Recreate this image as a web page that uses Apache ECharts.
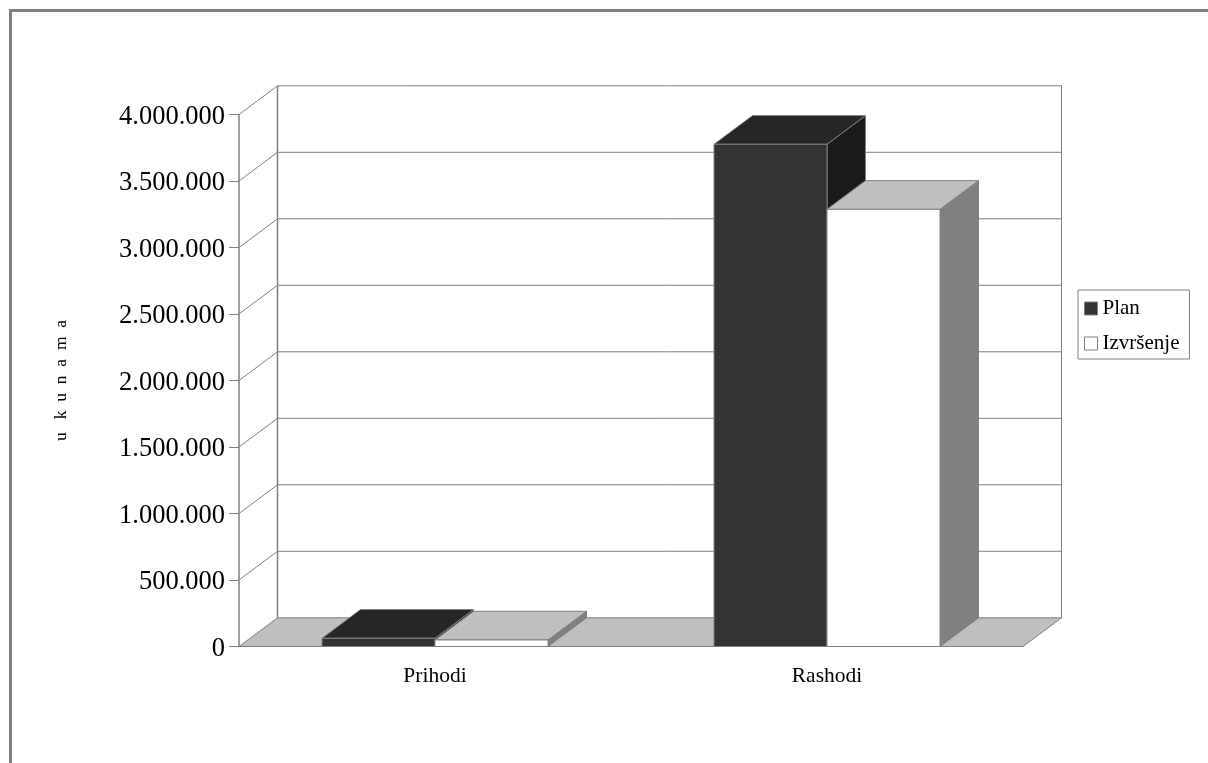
<!DOCTYPE html>
<html>
<head>
<meta charset="utf-8">
<style>html,body{margin:0;padding:0;background:#fff}#c{width:1208px;height:763px}</style>
<script src="https://cdn.jsdelivr.net/npm/echarts@6/dist/echarts.min.js"></script>
</head>
<body>
<div id="c"></div>
<script>
const categories = ['Prihodi', 'Rashodi'];
const planValues = [62000, 3776000];
const izvrsenjeValues = [49000, 3287000];
const yTicks = [0, 500000, 1000000, 1500000, 2000000, 2500000, 3000000, 3500000, 4000000];
const axisName = 'u   k  u  n  a  m  a';

const DX = 38.5, DY = -28.7, EDGE = '#808080', FONT = '"Liberation Serif", serif';
const BAR_SHARE = 113 / 392;

function poly(pts, fill, stroke) {
  return { type: 'polygon', shape: { points: pts }, style: { fill: fill, stroke: stroke || EDGE, lineWidth: 1 } };
}
function line(a, b, w) {
  return { type: 'line', shape: { x1: a[0], y1: a[1], x2: b[0], y2: b[1] }, style: { stroke: EDGE, lineWidth: w || 1 } };
}
function wallItem(params, api) {
  const cs = params.coordSys;
  const v = api.value(0);
  const y = api.coord([0, v])[1];
  const L = cs.x, R = cs.x + cs.width;
  const kids = [];
  if (v === 0) {
    const topY = cs.y + DY;
    kids.push(line([L + DX, y + DY], [L + DX, topY], 1.5));
    kids.push(line([R + DX, y + DY], [R + DX, topY], 1));
    kids.push(poly([[L, y], [R, y], [R + DX, y + DY], [L + DX, y + DY]], '#bfbfbf'));
  } else {
    kids.push(line([L, y], [L + DX, y + DY], 1));
    kids.push(line([L + DX, y + DY], [R + DX, y + DY], 1));
  }
  return { type: 'group', children: kids };
}
function barRenderer(offsetSign, front, top, side) {
  return function (params, api) {
    const base = api.coord([api.value(0), 0]);
    const head = api.coord([api.value(0), api.value(1)]);
    const w = api.size([1, 0])[0] * BAR_SHARE;
    const x0 = base[0] + (offsetSign < 0 ? -w : 0), x1 = x0 + w;
    const y0 = base[1], y1 = head[1];
    return { type: 'group', children: [
      poly([[x1, y0], [x1 + DX, y0 + DY], [x1 + DX, y1 + DY], [x1, y1]], side),
      poly([[x0, y1], [x1, y1], [x1 + DX, y1 + DY], [x0 + DX, y1 + DY]], top),
      poly([[x0, y0], [x1, y0], [x1, y1], [x0, y1]], front)
    ] };
  };
}
function fmt(v) { return String(v).replace(/\B(?=(\d{3})+$)/g, '.'); }

const chart = echarts.init(document.getElementById('c'), null, { renderer: 'canvas' });
chart.setOption({
  animation: false,
  backgroundColor: '#fff',
  graphic: [
    { type: 'rect', shape: { x: 9, y: 9, width: 3, height: 754 }, style: { fill: EDGE } },
    { type: 'rect', shape: { x: 9, y: 9, width: 1199, height: 3 }, style: { fill: EDGE } }
  ],
  grid: { left: 239, right: 185, top: 114.5, bottom: 116.5, containLabel: false },
  legend: {
    orient: 'vertical', left: 1078, top: 290,
    padding: [8, 10, 5, 6], itemWidth: 13, itemHeight: 13, itemGap: 14,
    borderColor: EDGE, borderWidth: 1, backgroundColor: '#fff',
    textStyle: { fontFamily: FONT, fontSize: 21, color: '#000' },
    data: [
      { name: 'Plan', icon: 'rect', itemStyle: { color: '#333333', borderColor: EDGE, borderWidth: 1 } },
      { name: 'Izvršenje', icon: 'rect', itemStyle: { color: '#ffffff', borderColor: EDGE, borderWidth: 1 } }
    ]
  },
  xAxis: {
    type: 'category', data: categories,
    axisLine: { lineStyle: { color: EDGE, width: 1 } },
    axisTick: { alignWithLabel: false, length: 10, lineStyle: { color: EDGE } },
    axisLabel: { fontFamily: FONT, fontSize: 21.5, color: '#000', margin: 19 },
    splitLine: { show: false }
  },
  yAxis: {
    type: 'value', min: 0, max: 4000000, interval: 500000,
    name: axisName, nameLocation: 'middle', nameGap: 169, nameRotate: 90,
    nameTextStyle: { fontFamily: FONT, fontSize: 17.5, color: '#000' },
    axisLine: { show: true, lineStyle: { color: EDGE, width: 1.5 } },
    axisTick: { show: true, length: 10, lineStyle: { color: EDGE } },
    axisLabel: { fontFamily: FONT, fontSize: 26.5, color: '#000', margin: 14, verticalAlign: 'top', lineHeight: 5, formatter: fmt },
    splitLine: { show: false }
  },
  series: [
    { type: 'custom', name: 'walls', silent: true, clip: false, coordinateSystem: 'cartesian2d',
      encode: { y: 0 }, data: yTicks.map(v => [v]), renderItem: wallItem, z: 1 },
    { type: 'custom', name: 'Plan', clip: false, encode: { x: 0, y: 1 }, z: 2,
      itemStyle: { color: '#333333' },
      data: categories.map((c, i) => [i, planValues[i]]),
      renderItem: barRenderer(-1, '#333333', '#262626', '#1a1a1a') },
    { type: 'custom', name: 'Izvršenje', clip: false, encode: { x: 0, y: 1 }, z: 3,
      itemStyle: { color: '#ffffff' },
      data: categories.map((c, i) => [i, izvrsenjeValues[i]]),
      renderItem: barRenderer(1, '#ffffff', '#bfbfbf', '#808080') }
  ]
});
</script>
</body>
</html>
